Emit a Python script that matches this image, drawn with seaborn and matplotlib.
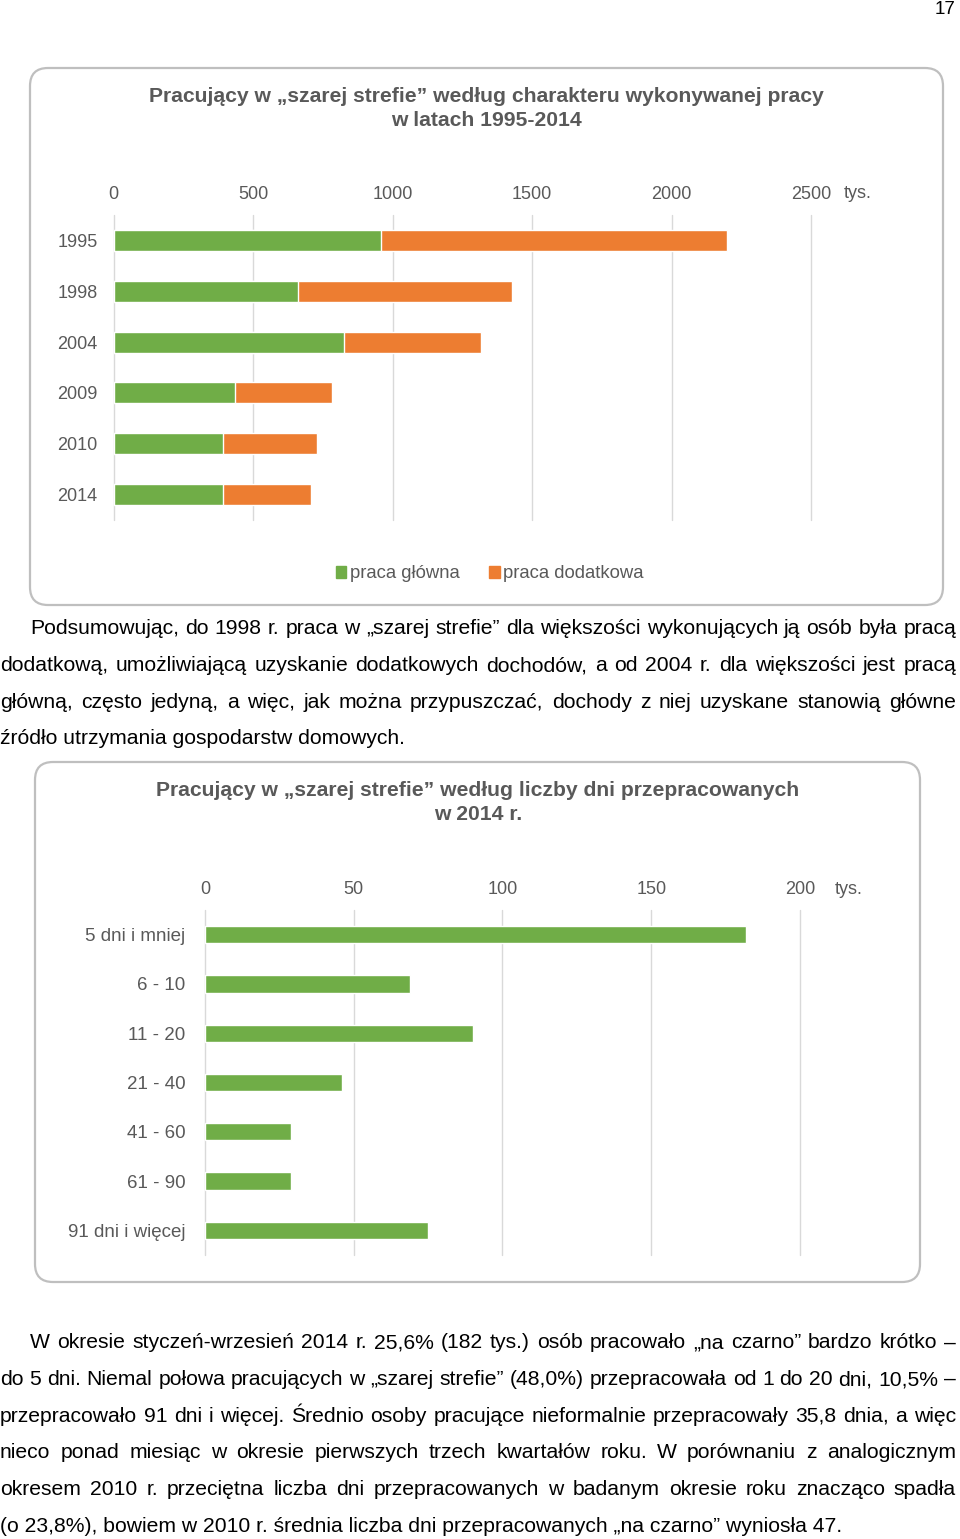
import numpy as np
import pandas as pd
import matplotlib
matplotlib.use("Agg")
import matplotlib.pyplot as plt
import seaborn as sns
from matplotlib.patches import FancyBboxPatch, Patch

# ---------------- data ----------------
years = ["1995", "1998", "2004", "2009", "2010", "2014"]
praca_glowna = [957, 661, 826, 435, 393, 393]
praca_dodatkowa = [1242, 768, 490, 348, 335, 315]
ticks1 = [0, 500, 1000, 1500, 2000, 2500]

dni_labels = ["5 dni i mniej", "6 - 10", "11 - 20", "21 - 40", "41 - 60", "61 - 90", "91 dni i więcej"]
dni_values = [182, 69, 90, 46, 29, 29, 75]
ticks2 = [0, 50, 100, 150, 200]

title1 = ["Pracujący w „szarej strefie” według charakteru wykonywanej pracy", "w latach 1995-2014"]
title2 = ["Pracujący w „szarej strefie” według liczby dni przepracowanych", "w 2014 r."]
legend_labels = ["praca główna", "praca dodatkowa"]
unit_label = "tys."
page_number = "17"

para1 = [
    "Podsumowując, do 1998 r. praca w „szarej strefie” dla większości wykonujących ją osób była pracą",
    "dodatkową, umożliwiającą uzyskanie dodatkowych dochodów, a od 2004 r. dla większości jest pracą",
    "główną, często jedyną, a więc, jak można przypuszczać, dochody z niej uzyskane stanowią główne",
    "źródło utrzymania gospodarstw domowych.",
]
para2 = [
    "W okresie styczeń-wrzesień 2014 r. 25,6% (182 tys.) osób pracowało „na czarno” bardzo krótko –",
    "do 5 dni. Niemal połowa pracujących w „szarej strefie” (48,0%) przepracowała od 1 do 20 dni, 10,5% –",
    "przepracowało 91 dni i więcej. Średnio osoby pracujące nieformalnie przepracowały 35,8 dnia, a więc",
    "nieco ponad miesiąc w okresie pierwszych trzech kwartałów roku. W porównaniu z analogicznym",
    "okresem 2010 r. przeciętna liczba dni przepracowanych w badanym okresie roku znacząco spadła",
    "(o 23,8%), bowiem w 2010 r. średnia liczba dni przepracowanych „na czarno” wyniosła 47.",
]

# ---------------- style ----------------
sns.set_theme(style="white")
plt.rcParams["font.family"] = ["Liberation Sans", "DejaVu Sans"]

GREEN = "#70AD47"
ORANGE = "#ED7D31"
GREY_TXT = "#595959"
GRID = "#D9D9D9"
BOX = "#BFBFBF"

W, H = 960, 1539
fig = plt.figure(figsize=(W / 100, H / 100), dpi=100)
fig.patch.set_facecolor("white")


def rect(l, t, r, b):
    return [l / W, 1 - b / H, (r - l) / W, (b - t) / H]


# background (pixel coordinate) axes
bg = fig.add_axes([0, 0, 1, 1], zorder=0)
bg.set_xlim(0, W)
bg.set_ylim(H, 0)
bg.axis("off")

for (x0, y0, x1, y1) in [(30, 68, 943, 605), (35, 762, 920, 1282)]:
    bg.add_patch(FancyBboxPatch((x0, y0), x1 - x0, y1 - y0,
                                boxstyle="round,pad=0,rounding_size=18",
                                facecolor="white", edgecolor=BOX, linewidth=1.6))

bg.text(956, 10, page_number, ha="right", va="center", fontsize=13.5, color="black")

# titles
for i, t in enumerate(title1):
    bg.text(486, 97 + i * 24, t, ha="center", va="center", fontsize=15.2,
            fontweight="bold", color=GREY_TXT)
for i, t in enumerate(title2):
    bg.text(478, 790 + i * 25, t, ha="center", va="center", fontsize=15.2,
            fontweight="bold", color=GREY_TXT)

bg.text(858, 194, unit_label, ha="center", va="center", fontsize=13, color=GREY_TXT)
bg.text(849, 889, unit_label, ha="center", va="center", fontsize=13, color=GREY_TXT)


def style_axes(ax, ticks, ypad, ylabelsize):
    ax.set_facecolor("none")
    for s in ax.spines.values():
        s.set_visible(False)
    ax.set_xticks(ticks)
    ax.set_xticklabels([str(t) for t in ticks])
    ax.xaxis.tick_top()
    ax.tick_params(axis="x", length=0, pad=8.5, labelsize=13, labelcolor=GREY_TXT)
    ax.tick_params(axis="y", length=0, pad=ypad, labelsize=ylabelsize, labelcolor=GREY_TXT)
    ax.grid(axis="x", color=GRID, linewidth=1)
    ax.grid(axis="y", visible=False)
    for gl in ax.get_xgridlines():
        gl.set_clip_on(False)
    ax.set_axisbelow(True)
    ax.set_xlabel("")
    ax.set_ylabel("")


# ---------------- chart 1 ----------------
df1 = pd.DataFrame({"rok": years, "glowna": praca_glowna, "dodatkowa": praca_dodatkowa})
df1["razem"] = df1["glowna"] + df1["dodatkowa"]

ax1 = fig.add_axes(rect(113.5, 215, 811, 520), zorder=2)
sns.barplot(data=df1, x="razem", y="rok", orient="h", color=ORANGE, saturation=1,
            width=0.41, ax=ax1, order=years)
sns.barplot(data=df1, x="glowna", y="rok", orient="h", color=GREEN, saturation=1,
            width=0.41, ax=ax1, order=years)
ax1.set_xlim(0, 2500)
style_axes(ax1, ticks1, 11.5, 13)

fig.legend(handles=[Patch(color=GREEN, label=legend_labels[0]),
                    Patch(color=ORANGE, label=legend_labels[1])],
           loc="center", bbox_to_anchor=(490 / W, 1 - 574 / H), ncol=2, frameon=False,
           handlelength=0.55, handleheight=0.55, handletextpad=0.2, columnspacing=1.6,
           fontsize=13.3, labelcolor=GREY_TXT)

# ---------------- chart 2 ----------------
df2 = pd.DataFrame({"dni": dni_labels, "liczba": dni_values})
ax2 = fig.add_axes(rect(205, 910, 800, 1255), zorder=2)
sns.barplot(data=df2, x="liczba", y="dni", orient="h", color=GREEN, saturation=1,
            width=0.35, ax=ax2, order=dni_labels)
ax2.set_xlim(0, 200)
style_axes(ax2, ticks2, 14, 13.5)

# ---------------- paragraphs (justified) ----------------
renderer = fig.canvas.get_renderer()


def draw_paragraph(lines, x_first, x_left, x_right, y0, dy, fs):
    for i, line in enumerate(lines):
        xs = x_first if i == 0 else x_left
        y = y0 + i * dy
        if i == len(lines) - 1:
            bg.text(xs, y, line, ha="left", va="center", fontsize=fs, color="black")
            continue
        words = line.split(" ")
        ts = [bg.text(0, y, w, ha="left", va="center", fontsize=fs, color="black") for w in words]
        widths = [t.get_window_extent(renderer).width for t in ts]
        gap = (x_right - xs - sum(widths)) / (len(words) - 1)
        x = xs
        for t, w in zip(ts, widths):
            t.set_x(x)
            x += w + gap


draw_paragraph(para1, 30, 0, 956, 629, 36.5, 15.2)
draw_paragraph(para2, 30, 0, 956, 1343, 36.6, 15.2)

fig.savefig("out.png", dpi=100)
